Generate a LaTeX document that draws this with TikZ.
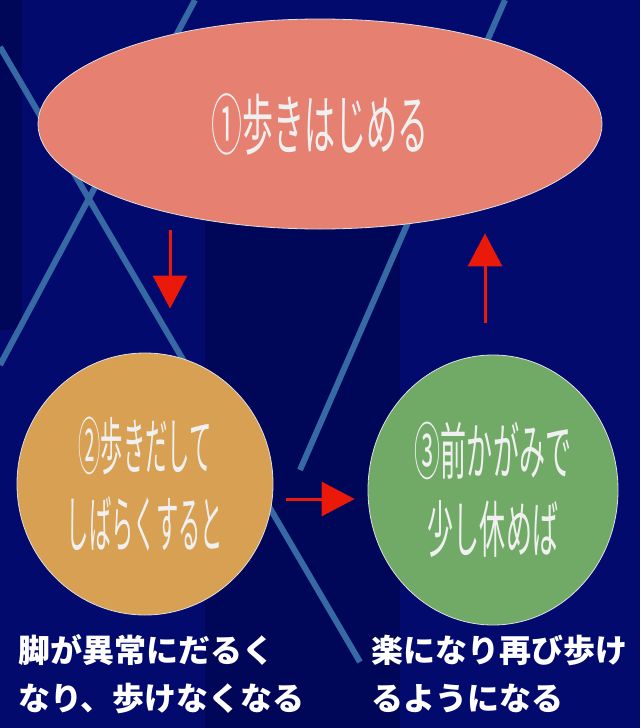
\documentclass[tikz,border=0pt]{standalone}
\usepackage{fontspec}
\usepackage{tikz}
\usepackage{xcolor}
\usetikzlibrary{arrows.meta,shapes.geometric,calc}
\newfontfamily\jpfont{Noto Sans CJK JP}
\newfontfamily\jpnarrower[FakeStretch=0.36]{Noto Sans CJK JP}
\newfontfamily\jpnarrow[FakeStretch=0.42]{Noto Sans CJK JP}
\newfontfamily\jpwide[FakeStretch=0.47]{Noto Sans CJK JP}
\definecolor{bgnavy}{RGB}{2,10,110}
\definecolor{bgdark}{RGB}{0,6,88}
\definecolor{streak}{RGB}{55,105,165}
\definecolor{salmon}{RGB}{230,128,112}
\definecolor{amber}{RGB}{215,160,82}
\definecolor{sage}{RGB}{112,170,102}
\definecolor{arrowred}{RGB}{235,25,10}
\definecolor{emboss}{RGB}{240,240,240}

\begin{document}
\begin{tikzpicture}[
  x=1pt, y=-1pt,
  stage/.style={draw=white!75!gray, line width=0.8pt, ellipse, inner sep=0pt, align=center, text=emboss},
  bigstage/.style={stage, fill=salmon, minimum width=564pt, minimum height=210pt,
    font=\jpwide\fontsize{66}{80}\selectfont},
  smallstage/.style={stage, font=\jpnarrow\fontsize{62}{78}\selectfont},
  note/.style={anchor=base west, inner sep=0pt, align=left, text=white,
    font=\jpfont\bfseries\fontsize{32}{48}\selectfont},
  streakline/.style={streak, line width=6pt},
  arrow/.style={-{Triangle[length=33pt,width=34pt]}, arrowred, line width=3pt}
]

% background
\fill[bgnavy] (0,0) rectangle (640,728);
\fill[bgdark] (205,220) rectangle (400,728);
\fill[bgdark] (0,0) rectangle (22,330);
\useasboundingbox (0,0) rectangle (640,728);
\draw[streakline] (195,0) -- (0,365);
\draw[streakline] (0,47) -- (360,662);
\draw[streakline] (505,0) -- (300,470);

\node[bigstage] (start) at (320,124) {①歩きはじめる};
\node[smallstage, fill=amber, minimum width=256pt, minimum height=262pt,
  font=\jpnarrower\fontsize{62}{78}\selectfont] (tired) at (145,484)
  {②歩きだして\\しばらくすると};
\node[smallstage, fill=sage, minimum width=250pt, minimum height=270pt] (rest) at (493,490)
  {③前かがみで\\少し休めば};

% notes under the circles (base = last line)
\node[note] (tiredtxt) at (18,710) {脚が異常にだるく\\なり、歩けなくなる};
\node[note] (resttxt) at (371,710) {楽になり再び歩け\\るようになる};

\draw[arrow] ([xshift=-150pt,yshift=-1pt]start.south) -- ([xshift=25pt,yshift=44pt]tired.north);
\draw[arrow] ([xshift=13pt,yshift=-15pt]tired.east) -- ([xshift=-13pt,yshift=-9pt]rest.west);
\draw[arrow] ([xshift=-8pt,yshift=32pt]rest.north) -- ([xshift=165pt,yshift=-4pt]start.south);

\end{tikzpicture}
\end{document}
